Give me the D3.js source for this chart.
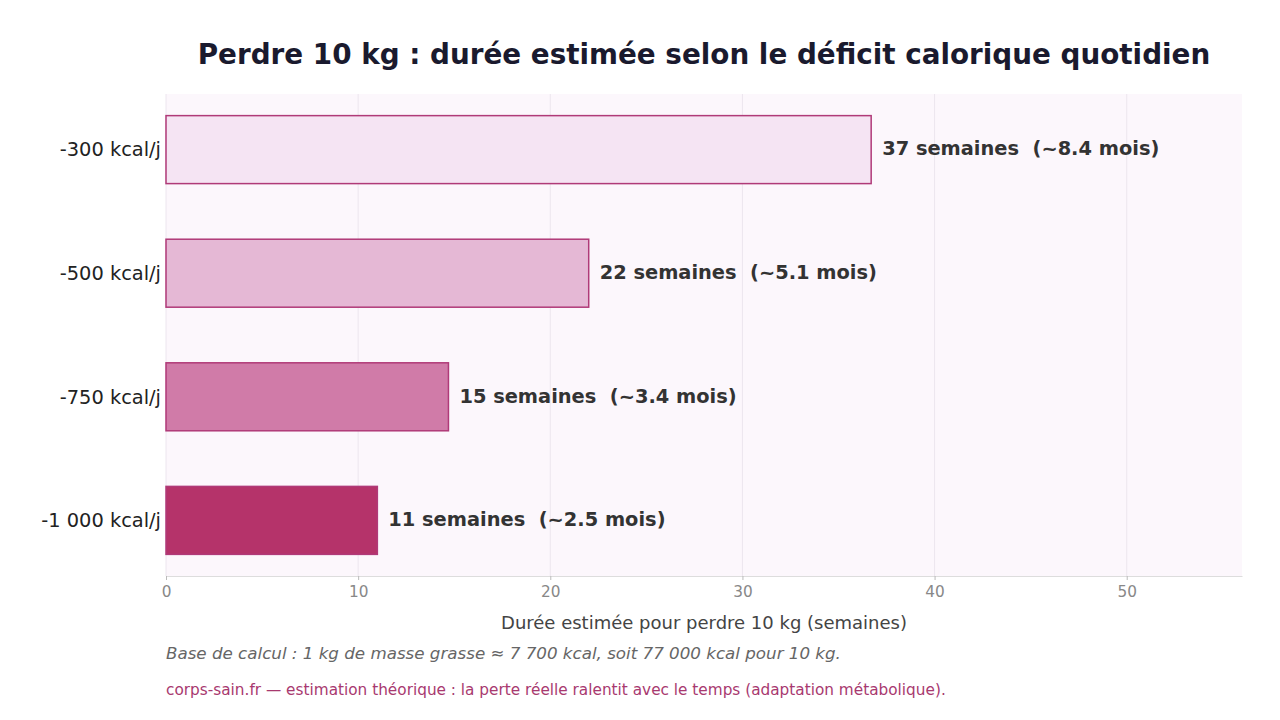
<!DOCTYPE html>
<html>
<head>
<meta charset="utf-8">
<script src="https://cdn.jsdelivr.net/npm/d3@7"></script>
<style>
  body { margin: 0; background: #fff; }
  svg { font-family: "DejaVu Sans", sans-serif; }
</style>
</head>
<body>
<div id="chart"></div>
<script>
// data
var deficits = ["-300 kcal/j", "-500 kcal/j", "-750 kcal/j", "-1 000 kcal/j"];
var weeks = [36.7, 22.0, 14.7, 11.0];
var valueLabels = ["37 semaines  (~8.4 mois)", "22 semaines  (~5.1 mois)", "15 semaines  (~3.4 mois)", "11 semaines  (~2.5 mois)"];
var fills = ["#f5e4f3", "#e5b8d5", "#d07ba8", "#b5336a"];
var xTicks = [0, 10, 20, 30, 40, 50];

var width = 1280, height = 720;
var margin = {left: 166, right: 38, top: 94, bottom: 144};

var svg = d3.select("#chart")
    .append("svg")
    .attr("width", width)
    .attr("height", height);

var x = d3.scaleLinear()
    .domain([0, 56])
    .range([margin.left, width - margin.right]);

var y = d3.scalePoint()
    .domain(deficits)
    .range([margin.top, height - margin.bottom])
    .padding(0.45);

var barH = y.step() * 0.55;

// plot background
svg.append("rect")
    .attr("x", margin.left)
    .attr("y", margin.top)
    .attr("width", width - margin.left - margin.right)
    .attr("height", height - margin.top - margin.bottom)
    .attr("fill", "#fcf7fc");

// grid
svg.append("g")
    .selectAll("line")
    .data(xTicks)
    .enter()
    .append("line")
    .attr("x1", d => x(d))
    .attr("x2", d => x(d))
    .attr("y1", margin.top)
    .attr("y2", height - margin.bottom)
    .attr("stroke", "#ece6ee")
    .attr("stroke-width", 1);

// bars
var rows = deficits.map((d, i) => ({cat: d, val: weeks[i], label: valueLabels[i], fill: fills[i]}));

svg.append("g")
    .selectAll("rect")
    .data(rows)
    .enter()
    .append("rect")
    .attr("x", x(0))
    .attr("y", d => y(d.cat) - barH / 2)
    .attr("width", d => x(d.val) - x(0))
    .attr("height", barH)
    .attr("fill", d => d.fill)
    .attr("stroke", "#b03a78")
    .attr("stroke-width", 1.5);

// value labels
svg.append("g")
    .selectAll("text")
    .data(rows)
    .enter()
    .append("text")
    .attr("x", d => x(d.val) + 11)
    .attr("y", d => y(d.cat))
    .attr("dy", "0.3em")
    .attr("font-size", 19.4)
    .attr("font-weight", "bold")
    .attr("fill", "#333")
    .style("white-space", "pre")
    .text(d => d.label);

// y labels
svg.append("g")
    .selectAll("text")
    .data(deficits)
    .enter()
    .append("text")
    .attr("x", margin.left - 5)
    .attr("y", d => y(d))
    .attr("dy", "0.35em")
    .attr("text-anchor", "end")
    .attr("font-size", 19.4)
    .attr("fill", "#222")
    .text(d => d);

// x axis
var xAxis = svg.append("g")
    .attr("transform", "translate(0," + (height - margin.bottom) + ")")
    .call(d3.axisBottom(x).tickValues(xTicks).tickSize(4).tickSizeOuter(0).tickPadding(6));
xAxis.select(".domain").attr("stroke", "#dddddd");
xAxis.selectAll(".tick line").attr("stroke", "#bbbbbb");
xAxis.selectAll(".tick text")
    .attr("font-size", 15.3)
    .attr("font-family", "DejaVu Sans, sans-serif")
    .attr("fill", "#888");

svg.append("text")
    .attr("x", (margin.left + width - margin.right) / 2)
    .attr("y", 629)
    .attr("text-anchor", "middle")
    .attr("font-size", 18)
    .attr("fill", "#444")
    .text("Durée estimée pour perdre 10 kg (semaines)");

// title
svg.append("text")
    .attr("x", (margin.left + width - margin.right) / 2)
    .attr("y", 64)
    .attr("text-anchor", "middle")
    .attr("font-size", 27.8)
    .attr("font-weight", "bold")
    .attr("fill", "#1a1a2e")
    .text("Perdre 10 kg : durée estimée selon le déficit calorique quotidien");

// notes
svg.append("text")
    .attr("x", margin.left)
    .attr("y", 659)
    .attr("font-size", 16.7)
    .attr("font-style", "italic")
    .attr("fill", "#666")
    .text("Base de calcul : 1 kg de masse grasse ≈ 7 700 kcal, soit 77 000 kcal pour 10 kg.");

svg.append("text")
    .attr("x", margin.left)
    .attr("y", 695)
    .attr("font-size", 15.3)
    .attr("fill", "#a8396f")
    .text("corps-sain.fr — estimation théorique : la perte réelle ralentit avec le temps (adaptation métabolique).");
</script>
</body>
</html>
